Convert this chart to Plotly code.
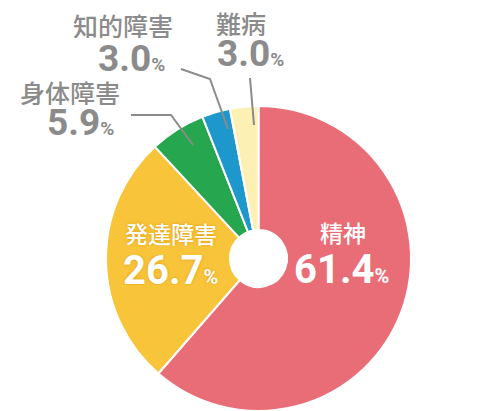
import plotly.graph_objects as go

# Data
categories = ['精神', '発達障害', '身体障害', '知的障害', '難病']
shares = [61.4, 26.7, 5.9, 3.0, 3.0]
colors = ['#E96D77', '#F8C43A', '#25A64F', '#1E98CC', '#FDF0B5']

W, H = 500, 411
GRAY = '#8b8b8b'
FONT = 'Roboto, Noto Sans CJK JP, sans-serif'


def px(x, y):
    """pixel -> paper coords"""
    return x / W, 1 - y / H


fig = go.Figure(go.Pie(
    labels=categories,
    values=shares,
    sort=False,
    direction='clockwise',
    rotation=0,
    hole=0.187,
    marker=dict(colors=colors, line=dict(color='white', width=2)),
    textinfo='none',
    hoverinfo='label+value',
    domain=dict(x=[0.196, 0.806], y=[0.019, 0.762]),
))


def add_label(name, value, name_pos, val_pos, color, name_size, val_size, shadow='none'):
    nx, ny = px(*name_pos)
    fig.add_annotation(x=nx, y=ny, xref='paper', yref='paper', showarrow=False,
                       text=name, xanchor='center', yanchor='middle', height=26,
                       font=dict(family='Noto Sans CJK JP', size=name_size, color=color,
                                 weight=500, shadow=shadow))
    vx, vy = px(*val_pos)
    pct_size = int(val_size * 0.52)
    fig.add_annotation(x=vx, y=vy, xref='paper', yref='paper', showarrow=False,
                       text=f"<b>{value:.1f}</b><span style='font-size:{pct_size}px'><b>%</b></span>",
                       xanchor='center', yanchor='middle', height=30,
                       font=dict(family=FONT, size=val_size, color=color, shadow=shadow))


# inside labels
add_label(categories[0], shares[0], (335, 224), (333, 261), 'white', 23, 40)
add_label(categories[1], shares[1], (163, 225), (162, 262), 'white', 23, 40,
          shadow='0px 0px 3px #e09a10')
# outside labels
add_label(categories[2], shares[2], (62, 84), (72, 114), GRAY, 25, 37)
add_label(categories[3], shares[3], (115, 17), (123, 50), GRAY, 25, 37)
add_label(categories[4], shares[4], (233, 15), (242, 45), GRAY, 25, 37)

# leader lines
leaders = [
    [(123, 107), (163, 107), (185, 137)],
    [(173, 61), (202, 71), (220, 121)],
    [(242, 70), (246, 117)],
]
for pts in leaders:
    path = ''
    for i, (x, y) in enumerate(pts):
        X, Y = px(x, y)
        path += ('M' if i == 0 else ' L') + f' {X:.4f} {Y:.4f}'
    fig.add_shape(type='path', path=path, xref='paper', yref='paper',
                  line=dict(color=GRAY, width=2))

fig.update_layout(
    width=W, height=H,
    margin=dict(l=0, r=0, t=0, b=0),
    paper_bgcolor='white',
    showlegend=False,
)

fig.write_html('out.html')
